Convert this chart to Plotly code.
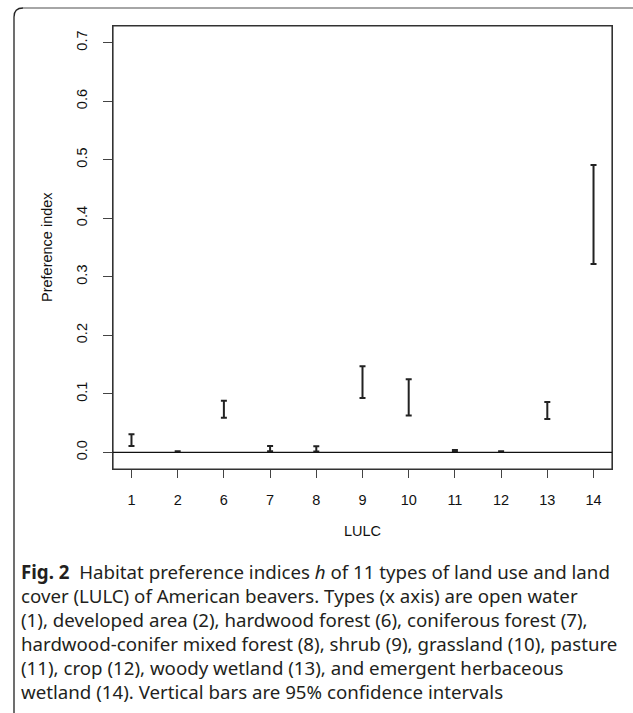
import plotly.graph_objects as go

# ---- data ----
lulc_labels = ["1", "2", "6", "7", "8", "9", "10", "11", "12", "13", "14"]
ci_lower = [0.011, 0.0008, 0.059, 0.0017, 0.0012, 0.093, 0.063, 0.0006, 0.0006, 0.057, 0.322]
ci_upper = [0.031, 0.0020, 0.088, 0.0108, 0.0103, 0.147, 0.125, 0.0040, 0.0020, 0.086, 0.491]
y_ticks = [0.0, 0.1, 0.2, 0.3, 0.4, 0.5, 0.6, 0.7]

caption_lines = [
    "<b>Fig. 2</b>  Habitat preference indices <i>h</i> of 11 types of land use and land",
    "cover (LULC) of American beavers. Types (x axis) are open water",
    "(1), developed area (2), hardwood forest (6), coniferous forest (7),",
    "hardwood-conifer mixed forest (8), shrub (9), grassland (10), pasture",
    "(11), crop (12), woody wetland (13), and emergent herbaceous",
    "wetland (14). Vertical bars are 95% confidence intervals",
]

W, H = 633, 713
L, R, T, B = 113, 612, 26, 469  # plot area in pixels
PW, PH = R - L, B - T


def px(x):
    return (x - L) / PW


def py(y):
    return (B - y) / PH


pos = list(range(1, len(lulc_labels) + 1))
mid = [(a + b) / 2 for a, b in zip(ci_lower, ci_upper)]
half = [(b - a) / 2 for a, b in zip(ci_lower, ci_upper)]

fig = go.Figure()
fig.add_trace(go.Scatter(
    x=pos, y=mid, mode="markers",
    marker=dict(size=1, color="rgba(0,0,0,0)"),
    error_y=dict(type="data", array=half, symmetric=True,
                 color="#222222", thickness=2, width=3),
    showlegend=False, hoverinfo="skip",
))

axis_font = dict(family="Liberation Sans, Arial, sans-serif", size=14.5, color="#111111")

fig.update_xaxes(
    range=[0.6, 11.4], tickmode="array", tickvals=pos, ticktext=lulc_labels,
    ticks="outside", ticklen=8, tickcolor="#444444", tickwidth=1,
    showline=True, mirror=True, linecolor="#333333", linewidth=1,
    showgrid=False, zeroline=False, tickfont=axis_font, ticklabelstandoff=10,
)
fig.update_yaxes(
    range=[-0.0285, 0.7286], tickmode="array", tickvals=y_ticks,
    ticktext=[f"{v:.1f}" for v in y_ticks],
    ticks="outside", ticklen=9, tickcolor="#444444", tickwidth=1,
    showline=True, mirror=True, linecolor="#333333", linewidth=1,
    showgrid=False, zeroline=False, tickfont=axis_font, tickangle=-90,
    ticklabelstandoff=10,
)

shapes = [
    # plot box
    dict(type="rect", xref="paper", yref="paper", x0=0, x1=1, y0=0, y1=1,
         line=dict(color="#333333", width=1.2), layer="above"),
    # horizontal reference line at 0
    dict(type="line", xref="paper", yref="y", x0=0, x1=1, y0=0, y1=0,
         line=dict(color="#111111", width=1.2)),
    # outer figure frame: top (gray) and left (black) with rounded corner
    dict(type="path", xref="paper", yref="paper",
         path=f"M {px(14)} {py(713)} L {px(14)} {py(17)} Q {px(14)} {py(8)} {px(23)} {py(8)}",
         line=dict(color="#222222", width=1.3)),
    dict(type="line", xref="paper", yref="paper",
         x0=px(23), x1=px(640), y0=py(8), y1=py(8),
         line=dict(color="#888888", width=1.3)),
]

annotations = [
    dict(text="Preference index", xref="paper", yref="paper", x=px(47), y=py(247),
         textangle=-90, showarrow=False, font=axis_font, xanchor="center", yanchor="middle"),
    dict(text="LULC", xref="paper", yref="paper", x=px(362), y=py(531),
         showarrow=False, font=axis_font, xanchor="center", yanchor="middle"),
]
cap_font = dict(family="Noto Sans, Open Sans, sans-serif", size=18.7, color="#231f20")
for i, line in enumerate(caption_lines):
    annotations.append(dict(
        text=line, xref="paper", yref="paper", x=px(19), y=py(571 + 24 * i),
        showarrow=False, font=cap_font, xanchor="left", yanchor="middle", align="left",
    ))

fig.update_layout(
    width=W, height=H, margin=dict(l=L, r=W - R, t=T, b=H - B),
    paper_bgcolor="white", plot_bgcolor="white",
    shapes=shapes, annotations=annotations,
)

fig.write_html("out.html", config={"displayModeBar": False},
               post_script="document.body.style.margin='0';")
